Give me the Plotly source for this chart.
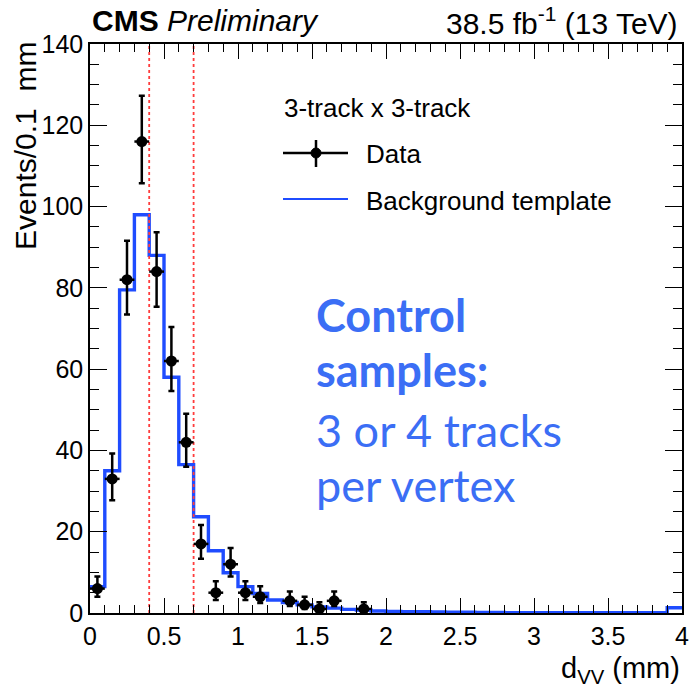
import numpy as np
import plotly.graph_objects as go

# ---------------- data ----------------
bin_edges = [round(0.1 * i, 1) for i in range(41)]
bkg_values = [6.5, 35, 79.5, 98, 88, 58, 36.5, 23.7, 15.3, 9.9,
              6.5, 4.8, 3.2, 2.6, 2.0, 1.5, 1.2, 0.9, 0.7, 0.5,
              0.4, 0.35, 0.3, 0.25, 0.2, 0.2, 0.15, 0.15, 0.1, 0.1,
              0.1, 0.1, 0.1, 0.1, 0.05, 0.05, 0.05, 0.05, 0.05, 1.3]

data_x = [0.05, 0.15, 0.25, 0.35, 0.45, 0.55, 0.65, 0.75, 0.85, 0.95,
          1.05, 1.15, 1.35, 1.45, 1.55, 1.65, 1.85]
data_y = [6, 33, 82, 116, 84, 62, 42, 17, 5, 12, 5, 4, 3, 2, 1, 3, 1]

cut_lines = [0.4, 0.7]

x_ticks = [0, 0.5, 1, 1.5, 2, 2.5, 3, 3.5, 4]
x_tick_labels = ["0", "0.5", "1", "1.5", "2", "2.5", "3", "3.5", "4"]
y_ticks = [0, 20, 40, 60, 80, 100, 120, 140]

# ---------------- style ----------------
W = H = 693
L, R, T, B = 90, 11, 44, 80
PW, PH = W - L - R, H - T - B
FONT = "Liberation Sans"
HIST_BLUE = "#1f4cff"
TEXT_BLUE = "#3b6ef5"


def px(xp):
    return (xp - L) / PW


def py(yp):
    return (H - B - yp) / PH


fig = go.Figure()

# background template histogram (step line)
step_x = bin_edges[:-1] + [bin_edges[-1]]
step_y = bkg_values + [bkg_values[-1]]
fig.add_trace(go.Scatter(x=step_x, y=step_y, mode="lines", line_shape="hv",
                         line=dict(color=HIST_BLUE, width=3.4),
                         showlegend=False, hoverinfo="skip"))

# red dotted cut lines
for xc in cut_lines:
    fig.add_trace(go.Scatter(x=[xc, xc], y=[0, 140], mode="lines",
                             line=dict(color="rgb(255,60,60)", width=1.8, dash="3px,3px"),
                             showlegend=False, hoverinfo="skip"))

# data points with Poisson-like errors
dy = np.array(data_y, dtype=float)
err_up = np.sqrt(dy + 0.25) + 0.5
err_dn = np.sqrt(dy + 0.25) - 0.5
fig.add_trace(go.Scatter(
    x=data_x, y=data_y, mode="markers",
    marker=dict(color="black", size=11, symbol="circle"),
    error_y=dict(type="data", symmetric=False, array=err_up, arrayminus=err_dn,
                 color="black", thickness=2.5, width=3),
    error_x=dict(type="constant", value=0.05, color="black", thickness=2.5, width=0),
    showlegend=False))

axis_common = dict(showline=True, linecolor="black", linewidth=1.5, mirror="allticks",
                   ticks="inside", tickcolor="black", showgrid=False, zeroline=False,
                   automargin=False,
                   tickfont=dict(family=FONT, size=25, color="black"))

fig.update_xaxes(range=[0, 4], tickvals=x_ticks, ticktext=x_tick_labels,
                 ticklen=15, tickwidth=1,
                 minor=dict(dtick=0.1, ticklen=8, ticks="inside", tickcolor="black", tickwidth=1),
                 **axis_common)
fig.update_yaxes(range=[0, 140], tickvals=y_ticks, ticklen=17, tickwidth=1,
                 minor=dict(dtick=5, ticklen=9, ticks="inside", tickcolor="black", tickwidth=1),
                 **axis_common)

ann = []
# top labels
ann.append(dict(x=0, y=py(21), xref="paper", yref="paper", xanchor="left", yanchor="middle",
                text="<b>CMS</b> <i>Preliminary</i>", showarrow=False,
                font=dict(family=FONT, size=30, color="black")))
ann.append(dict(x=px(680), y=py(21), xref="paper", yref="paper", xanchor="right", yanchor="middle",
                text="38.5 fb<sup>-1</sup> (13 TeV)", showarrow=False,
                font=dict(family=FONT, size=30, color="black")))
# axis titles
ann.append(dict(x=px(682), y=py(670), xref="paper", yref="paper", xanchor="right", yanchor="middle",
                text="d<sub>VV</sub> (mm)", showarrow=False,
                font=dict(family=FONT, size=29, color="black")))
ann.append(dict(x=px(25), y=py(40), xref="paper", yref="paper", xanchor="center", yanchor="top",
                text="Events/0.1  mm", textangle=-90, showarrow=False,
                font=dict(family=FONT, size=30, color="black")))
# legend
ann.append(dict(x=px(282), y=py(108), xref="paper", yref="paper", xanchor="left", yanchor="middle",
                text="3-track x 3-track", showarrow=False,
                font=dict(family=FONT, size=26, color="black")))
ann.append(dict(x=px(364), y=py(154), xref="paper", yref="paper", xanchor="left", yanchor="middle",
                text="Data", showarrow=False,
                font=dict(family=FONT, size=26, color="black")))
ann.append(dict(x=px(364), y=py(201), xref="paper", yref="paper", xanchor="left", yanchor="middle",
                text="Background template", showarrow=False,
                font=dict(family=FONT, size=26, color="black")))
# blue text
blue_lines = [("<b>Control</b>", 315), ("<b>samples:</b>", 370),
              ("3 or 4 tracks", 430), ("per vertex", 485)]
for txt, yy in blue_lines:
    ann.append(dict(x=px(314), y=py(yy), xref="paper", yref="paper", xanchor="left", yanchor="middle",
                    text=txt, showarrow=False,
                    font=dict(family="Lato", size=45, color=TEXT_BLUE)))

shapes = [
    dict(type="line", xref="paper", yref="paper", x0=px(283), x1=px(348), y0=py(153), y1=py(153),
         line=dict(color="black", width=2.5)),
    dict(type="line", xref="paper", yref="paper", x0=px(316), x1=px(316), y0=py(140), y1=py(167),
         line=dict(color="black", width=2.5)),
    dict(type="circle", xref="paper", yref="paper", x0=px(311), x1=px(321), y0=py(148), y1=py(158),
         fillcolor="black", line=dict(color="black", width=1)),
    dict(type="line", xref="paper", yref="paper", x0=px(283), x1=px(348), y0=py(199), y1=py(199),
         line=dict(color=HIST_BLUE, width=2)),
]

fig.update_layout(width=W, height=H, margin=dict(l=L, r=R, t=T, b=B),
                  plot_bgcolor="white", paper_bgcolor="white",
                  annotations=ann, shapes=shapes, showlegend=False,
                  font=dict(family=FONT))

fig.write_html("out.html", config={"displayModeBar": False},
               post_script="document.body.style.margin='0px';document.body.style.overflow='hidden';")
